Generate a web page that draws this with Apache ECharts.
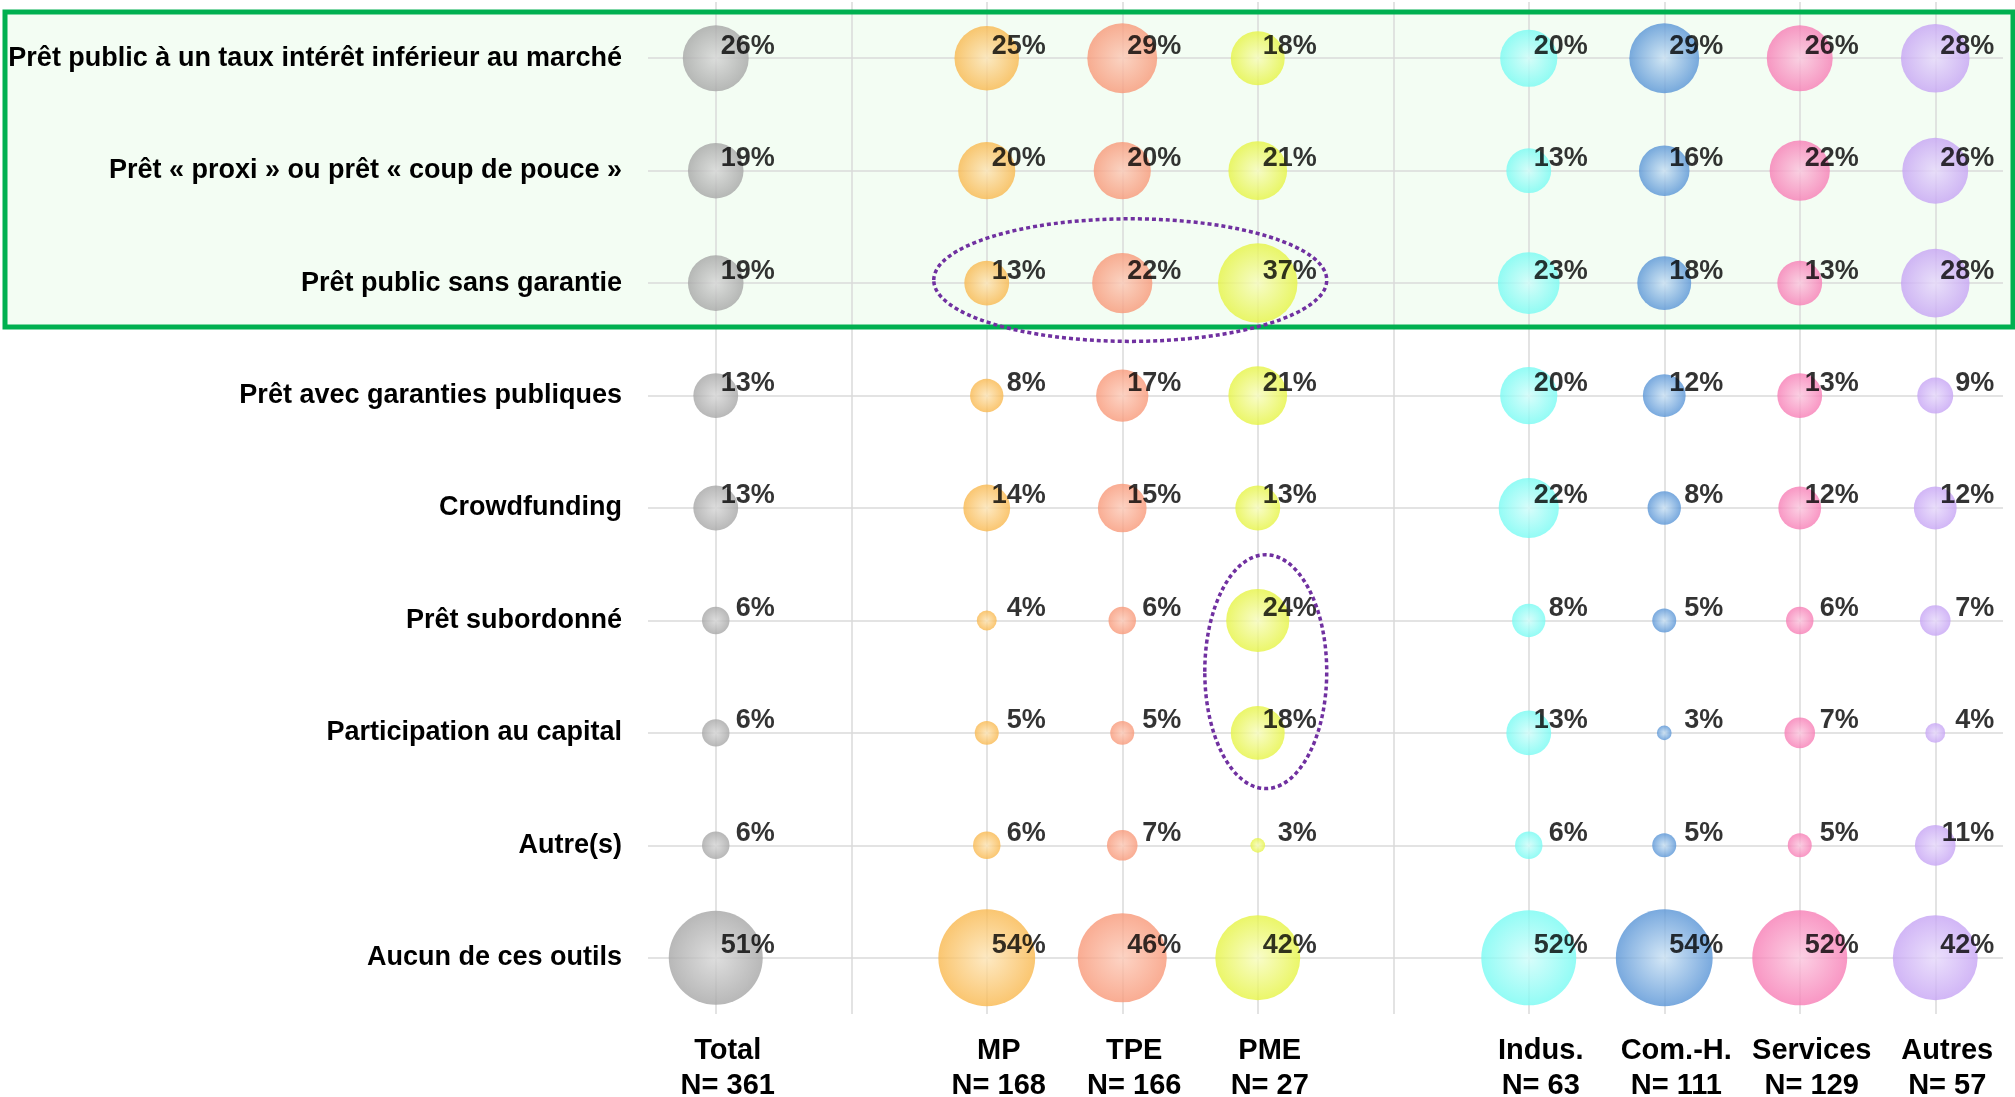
<!DOCTYPE html>
<html>
<head>
<meta charset="utf-8">
<script src="https://cdn.jsdelivr.net/npm/echarts@6/dist/echarts.min.js"></script>
<style>
  html, body { margin: 0; padding: 0; background: #fff; }
  #main { width: 2015px; height: 1097px; }
</style>
</head>
<body>
<div id="main"></div>
<script>
// lignes (outils de financement)
var rows = [
    'Prêt public à un taux intérêt inférieur au marché',
    'Prêt « proxi » ou prêt « coup de pouce »',
    'Prêt public sans garantie',
    'Prêt avec garanties publiques',
    'Crowdfunding',
    'Prêt subordonné',
    'Participation au capital',
    'Autre(s)',
    'Aucun de ces outils'
];

// groupes de colonnes (séparés par un espace vide)
var groups = [['Total'], ['MP', 'TPE', 'PME'], ['Indus.', 'Com.-H.', 'Services', 'Autres']];
var sampleN = { 'Total': 361, 'MP': 168, 'TPE': 166, 'PME': 27, 'Indus.': 63, 'Com.-H.': 111, 'Services': 129, 'Autres': 57 };

// % par colonne, dans l'ordre des lignes
var total    = [26, 19, 19, 13, 13, 6, 6, 6, 51];
var mp       = [25, 20, 13, 8, 14, 4, 5, 6, 54];
var tpe      = [29, 20, 22, 17, 15, 6, 5, 7, 46];
var pme      = [18, 21, 37, 21, 13, 24, 18, 3, 42];
var indus    = [20, 13, 23, 20, 22, 8, 13, 6, 52];
var comH     = [29, 16, 18, 12, 8, 5, 3, 5, 54];
var services = [26, 22, 13, 13, 12, 6, 7, 5, 52];
var autres   = [28, 26, 28, 9, 12, 7, 4, 11, 42];

var values = { 'Total': total, 'MP': mp, 'TPE': tpe, 'PME': pme, 'Indus.': indus, 'Com.-H.': comH, 'Services': services, 'Autres': autres };

// couleurs (centre clair, bord)
var colors = {
    'Total':    ['#d6d6d6', '#a6a6a6'],
    'MP':       ['#fde4b4', '#f9b84e'],
    'TPE':      ['#fcc9b6', '#f89878'],
    'PME':      ['#f7fcbc', '#e6f444'],
    'Indus.':   ['#cffdfa', '#78fbf3'],
    'Com.-H.':  ['#c9e1f4', '#5894d6'],
    'Services': ['#fbc6de', '#f77db5'],
    'Autres':   ['#e6d8fb', '#c6a4f4']
};

var FONT = "'Liberation Sans', Arial, sans-serif";

// catégories de l'axe x avec espaces entre les groupes
var xCats = [];
var colIndex = {};
groups.forEach(function (g, gi) {
    if (gi > 0) xCats.push(new Array(gi + 1).join(' '));
    g.forEach(function (c) {
        colIndex[c] = xCats.length;
        xCats.push(c);
    });
});

var chart = echarts.init(document.getElementById('main'));

var series = [];
Object.keys(values).forEach(function (name) {
    var col = colIndex[name];
    series.push({
        name: name,
        type: 'scatter',
        data: values[name].map(function (v, r) { return [col, r, v]; }),
        symbolSize: function (val) {
            return 13.4 * Math.sqrt(Math.max(val[2] - 1.8, 0.6));
        },
        itemStyle: {
            color: {
                type: 'radial', x: 0.5, y: 0.5, r: 0.5,
                colorStops: [
                    { offset: 0, color: colors[name][0] },
                    { offset: 1, color: colors[name][1] }
                ]
            }
        },
        label: {
            show: true,
            position: 'inside',
            align: 'right',
            verticalAlign: 'middle',
            offset: [59, -12],
            formatter: function (p) { return p.value[2] + '%'; },
            color: '#000',
            fontFamily: FONT,
            fontWeight: 'bold',
            fontSize: 27
        },
        emphasis: { disabled: true },
        silent: true,
        z: 2
    });
});

// quadrillage
var gridLines = [];
xCats.forEach(function (c, i) { gridLines.push({ xAxis: i }); });
rows.forEach(function (r, i) { gridLines.push({ yAxis: i }); });
series[0].markLine = {
    silent: true,
    symbol: ['none', 'none'],
    label: { show: false },
    lineStyle: { color: '#dadada', width: 1.5, type: 'solid' },
    z: 1,
    data: gridLines
};

var option = {
    animation: false,
    backgroundColor: '#ffffff',
    grid: { left: 648, right: 12, top: 2, bottom: 83, containLabel: false, outerBoundsMode: 'none' },
    xAxis: {
        type: 'category',
        data: xCats,
        boundaryGap: true,
        axisLine: { show: false },
        axisTick: { show: false },
        splitLine: { show: false },
        axisLabel: {
            interval: 0,
            margin: 19,
            padding: [0, 0, 0, 24],
            lineHeight: 35,
            color: '#000',
            fontFamily: FONT,
            fontWeight: 'bold',
            fontSize: 29,
            formatter: function (v) {
                return sampleN[v] ? v + '\nN= ' + sampleN[v] : '';
            }
        }
    },
    yAxis: {
        type: 'category',
        data: rows,
        inverse: true,
        boundaryGap: true,
        axisLine: { show: false },
        axisTick: { show: false },
        splitLine: { show: false },
        axisLabel: {
            interval: 0,
            margin: 26,
            padding: [0, 0, 6, 0],
            color: '#000',
            fontFamily: FONT,
            fontWeight: 'bold',
            fontSize: 27
        }
    },
    series: series
};

option && chart.setOption(option);

// encadré vert et ellipses en pointillés, placés depuis les axes
var px = function (c, r) { return chart.convertToPixel({ gridIndex: 0 }, [c, r]); };
var p0 = px(0, 0), p2 = px(0, 2);
var stepY = px(0, 1)[1] - p0[1];
var stepX = px(1, 0)[0] - p0[0];
var boxTop = p0[1] - 0.41 * stepY;
var boxBottom = p2[1] + 0.39 * stepY;

var eA = px(colIndex['TPE'], 2);
var eB1 = px(colIndex['PME'], 5), eB2 = px(colIndex['PME'], 6);

chart.setOption({
    graphic: [
        {
            type: 'rect', z: -10, silent: true,
            shape: { x: 5, y: boxTop, width: 2008, height: boxBottom - boxTop },
            style: { fill: '#f3fdf3' }
        },
        {
            type: 'rect', z: 3, silent: true,
            shape: { x: 5, y: boxTop, width: 2008, height: boxBottom - boxTop },
            style: { fill: 'none', stroke: '#00b050', lineWidth: 5 }
        },
        {
            type: 'ellipse', z: 4, silent: true,
            shape: { cx: eA[0] + 8, cy: eA[1] - 3, rx: 1.45 * stepX, ry: 0.545 * stepY },
            style: { fill: 'none', stroke: '#7030a0', lineWidth: 3.5, lineDash: [4, 3] }
        },
        {
            type: 'ellipse', z: 4, silent: true,
            shape: { cx: eB1[0] + 8, cy: (eB1[1] + eB2[1]) / 2 - 5, rx: 0.45 * stepX, ry: 1.04 * stepY },
            style: { fill: 'none', stroke: '#7030a0', lineWidth: 3.5, lineDash: [4, 3] }
        }
    ]
});
</script>
</body>
</html>
